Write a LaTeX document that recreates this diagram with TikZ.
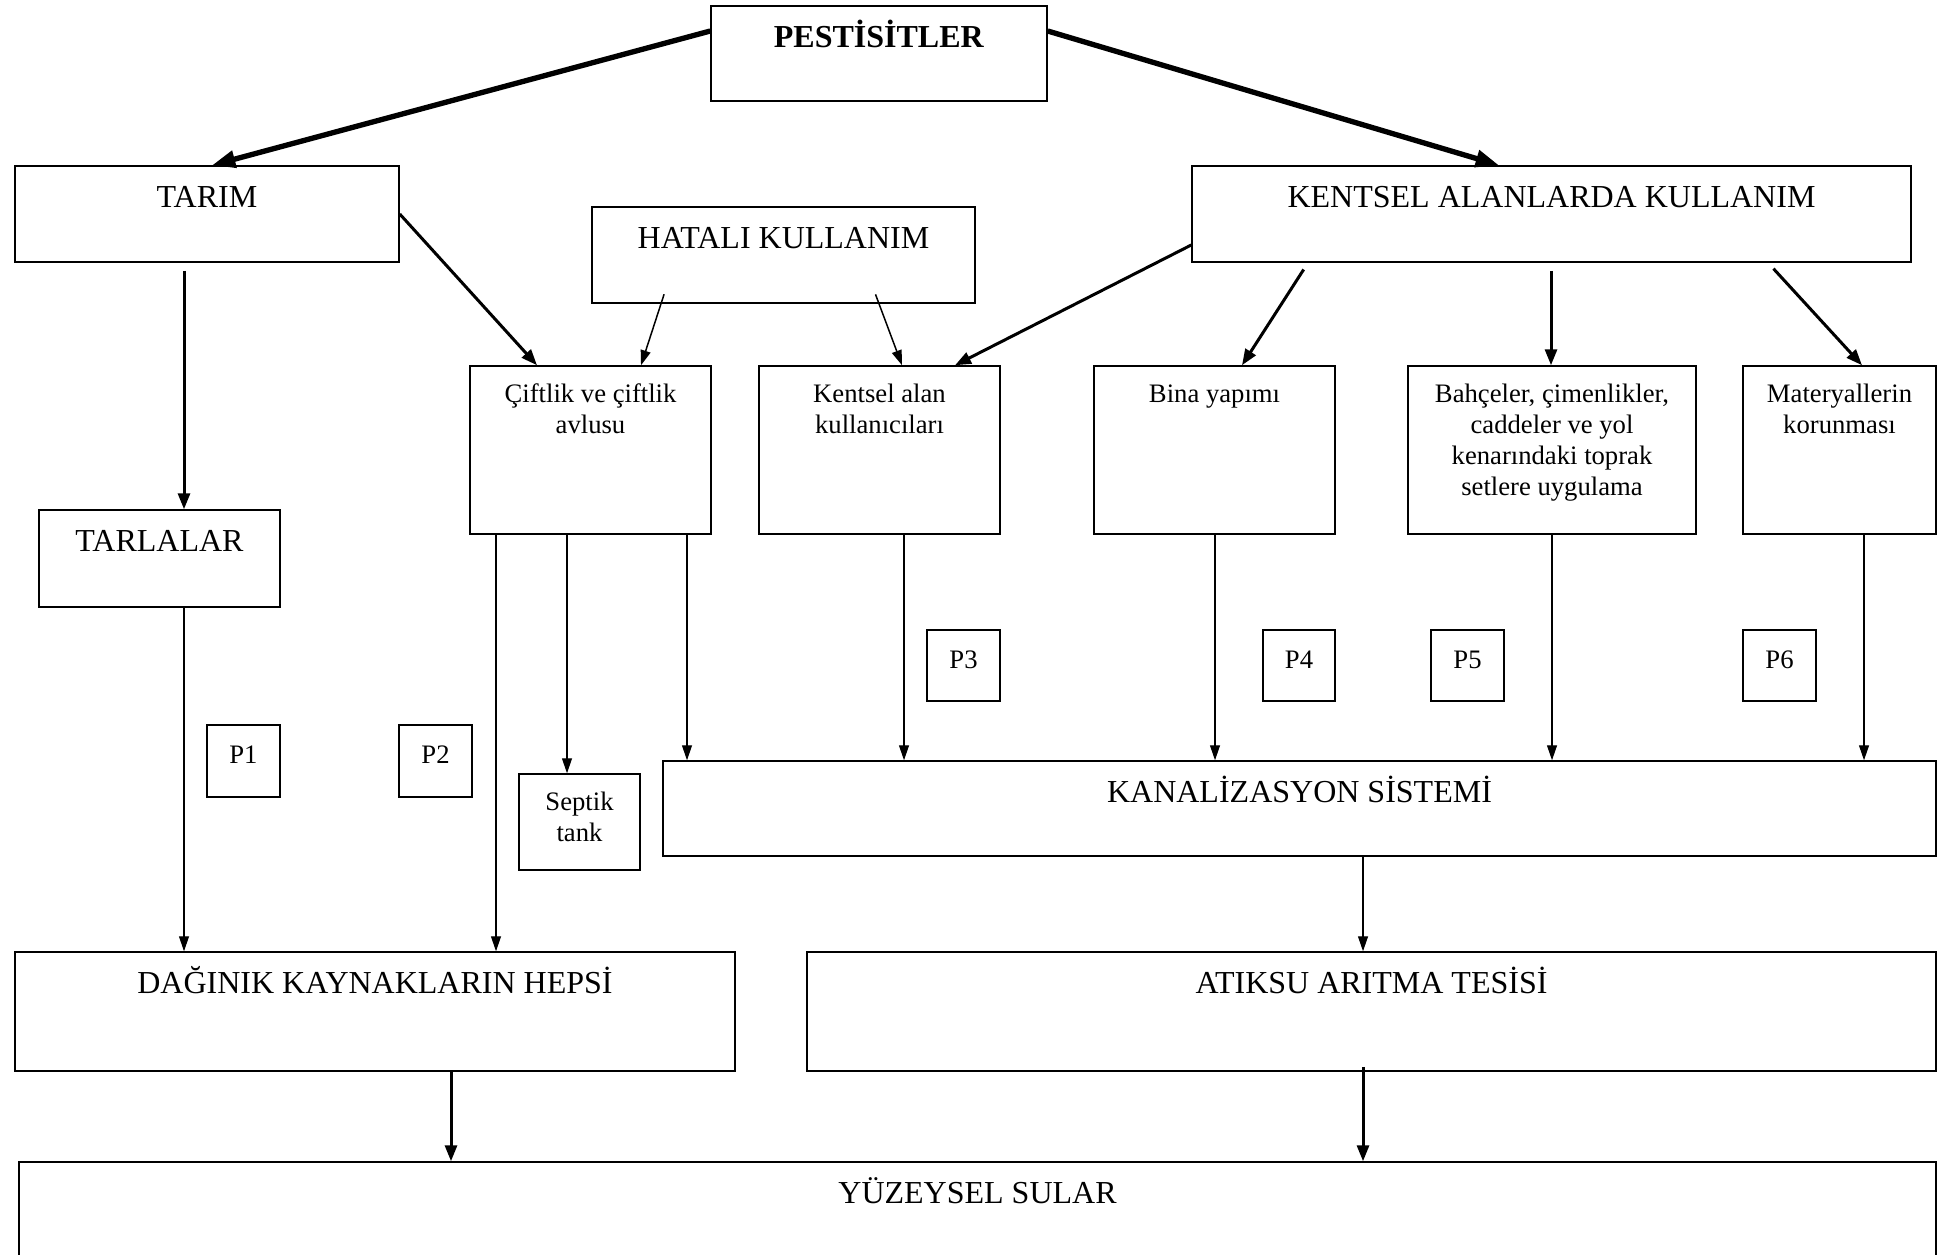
\documentclass[tikz,border=0pt]{standalone}
\usepackage{fontspec}
\setmainfont{Liberation Serif}
\usetikzlibrary{arrows.meta}

\tikzset{
 box/.style={draw, line width=.45pt, inner sep=0pt},
 sz/.style 2 args={minimum width=#1*.3pt, minimum height=#2*.3pt},
 head/.style={anchor=base, yshift=-12.7pt, inner sep=0pt, font=\fontsize{9.6}{11.5}\selectfont},
 note/.style={anchor=north, yshift=-5.3pt, inner sep=0pt, align=center, font=\fontsize{8}{9.35}\selectfont},
 pnote/.style={anchor=base, yshift=-11.9pt, inner sep=0pt, font=\fontsize{8}{9.35}\selectfont},
 heavyarrow/.style={->, >={Triangle[length=7pt,width=5pt]}, line width=1.6pt},
 midarrow/.style={->, >={Triangle[length=4.8pt,width=3.6pt]}, line width=.9pt},
 thinarrow/.style={->, >={Triangle[length=4.5pt,width=3pt]}, line width=.35pt},
}

\begin{document}
\begin{tikzpicture}[x=.3pt, y=-.3pt]
\useasboundingbox (0,0) rectangle (1957,1254);

\node[box, sz={336}{95}, label={[head]north:\textbf{PESTİSİTLER}}] (pest) at (879,53.5) {};
\node[box, sz={384}{96}, label={[head]north:TARIM}] (tarim) at (207,214) {};
\node[box, sz={383}{96}, label={[head]north:HATALI KULLANIM}] (hatali) at (783.5,255) {};
\node[box, sz={719}{96}, label={[head]north:KENTSEL ALANLARDA KULLANIM}] (kentsel) at (1551.5,214) {};

\node[box, sz={241}{168}, label={[note]north:Çiftlik ve çiftlik\\avlusu}] (ciftlik) at (590.5,450) {};
\node[box, sz={241}{168}, label={[note]north:Kentsel alan\\kullanıcıları}] (kalan) at (879.5,450) {};
\node[box, sz={241}{168}, label={[note, yshift=-.4pt]north:Bina yapımı}] (bina) at (1214.5,450) {};
\node[box, sz={288}{168}, label={[note]north:{Bahçeler, çimenlikler,\\caddeler ve yol\\kenarındaki toprak\\setlere uygulama}}] (bahce) at (1552,450) {};
\node[box, sz={193}{168}, label={[note]north:Materyallerin\\korunması}] (mater) at (1839.5,450) {};

\node[box, sz={241}{97}, label={[head]north:TARLALAR}] (tarla) at (159.5,558.5) {};
\node[box, sz={121}{96}, label={[note]north:Septik\\tank}] (septik) at (579.5,822) {};

\node[box, sz={73}{72}, label={[pnote]north:P1}] (p1) at (243.5,761) {};
\node[box, sz={73}{72}, label={[pnote]north:P2}] (p2) at (435.5,761) {};
\node[box, sz={73}{71}, label={[pnote]north:P3}] (p3) at (963.5,665.5) {};
\node[box, sz={72}{71}, label={[pnote]north:P4}] (p4) at (1299,665.5) {};
\node[box, sz={73}{71}, label={[pnote]north:P5}] (p5) at (1467.5,665.5) {};
\node[box, sz={73}{71}, label={[pnote]north:P6}] (p6) at (1779.5,665.5) {};

\node[box, sz={1273}{95}, label={[head]north:KANALİZASYON SİSTEMİ}] (kanal) at (1299.5,808.5) {};
\node[box, sz={720}{119}, label={[head]north:DAĞINIK KAYNAKLARIN HEPSİ}] (dagi) at (375,1011.5) {};
\node[box, sz={1129}{119}, label={[head]north:ATIKSU ARITMA TESİSİ}] (atik) at (1371.5,1011.5) {};
\node[box, sz={1917}{110}, label={[head]north:YÜZEYSEL SULAR}] (yuzey) at (977.5,1217) {};

\draw[heavyarrow] (pest.west |- 0,31) -- (tarim.north -| 212,0);
\draw[heavyarrow] (pest.east |- 0,31) -- (kentsel.north -| 1499,0);

\draw[midarrow] (tarim.east) -- (ciftlik.north -| 537,0);
\draw[midarrow, shorten <=2.4pt] (tarim.south -| 184,0) -- (tarla.north -| 184,0);
\draw[thinarrow, line width=.45pt, shorten <=-3pt] (hatali.south -| 661,0) -- (ciftlik.north -| 641,0);
\draw[thinarrow, line width=.45pt, shorten <=-3pt] (hatali.south -| 879,0) -- (kalan.north -| 902,0);
\draw[midarrow] (kentsel.west |- 0,245) -- (kalan.north -| 955,0);
\draw[midarrow, shorten <=2.4pt] (kentsel.south -| 1308,0) -- (bina.north -| 1242,0);
\draw[midarrow, shorten <=2.4pt] (kentsel.south -| 1551,0) -- (bahce.north -| 1551,0);
\draw[midarrow, shorten <=2.4pt] (kentsel.south -| 1768,0) -- (mater.north -| 1862,0);

\draw[thinarrow] (tarla.south -| 184,0) -- (dagi.north -| 184,0);
\draw[thinarrow] (ciftlik.south -| 496,0) -- (dagi.north -| 496,0);
\draw[thinarrow] (ciftlik.south -| 567,0) -- (septik.north -| 567,0);
\foreach \x/\n in {687/ciftlik, 904/kalan, 1215/bina, 1552/bahce, 1864/mater}
 \draw[thinarrow] (\n.south -| \x,0) -- (kanal.north -| \x,0);
\draw[thinarrow] (kanal.south -| 1363,0) -- (atik.north -| 1363,0);

\draw[midarrow] (dagi.south -| 451,0) -- (yuzey.north -| 451,0);
\draw[midarrow, shorten <=-1.5pt] (atik.south -| 1363,0) -- (yuzey.north -| 1363,0);
\end{tikzpicture}
\end{document}
